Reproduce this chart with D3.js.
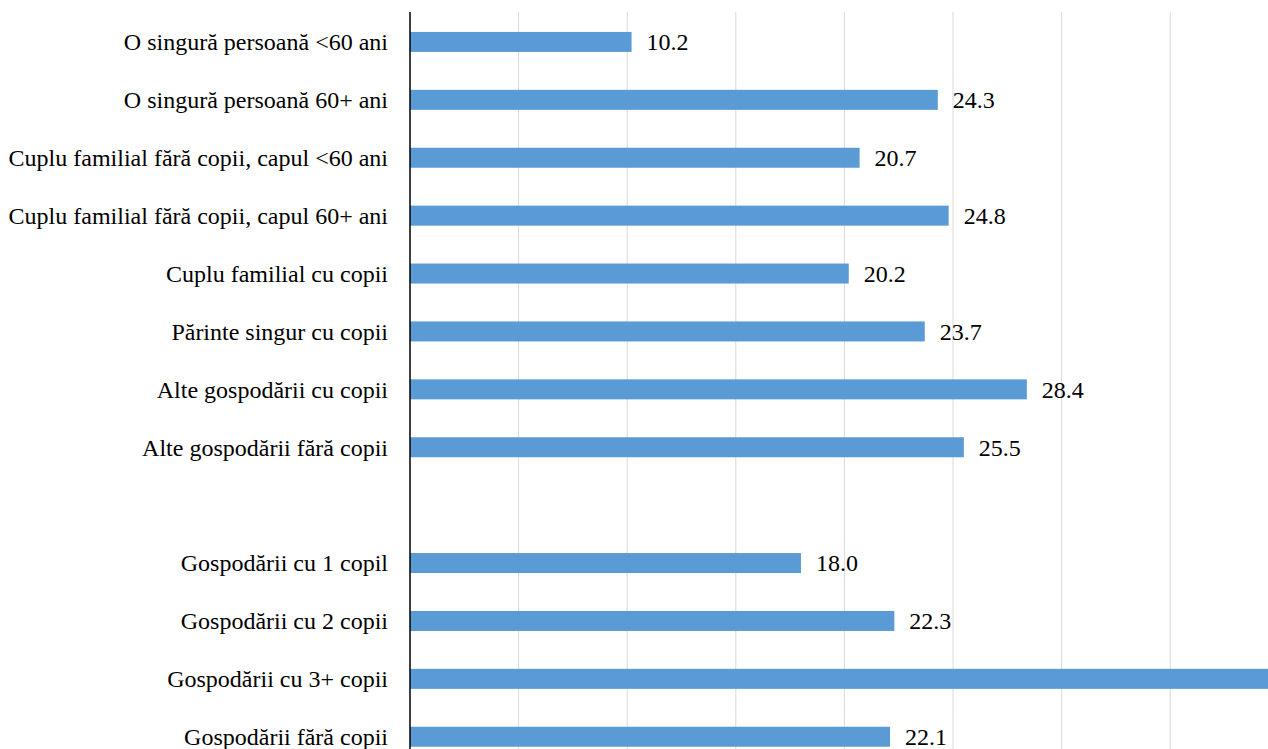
<!DOCTYPE html>
<html lang="en">
<head>
<meta charset="UTF-8">
<script src="https://d3js.org/d3.v7.min.js"></script>
<style>
  body { margin: 0; background: #fff; }
  text { font-family: "Times New Roman", "Liberation Serif", Times, "DejaVu Serif", serif; font-size: 24px; fill: #000; }
</style>
</head>
<body>
<svg width="1268" height="749"></svg>
<script>
// categories, top to bottom ("" is the blank separator row)
const categories = [
  "O singură persoană <60 ani",
  "O singură persoană 60+ ani",
  "Cuplu familial fără copii, capul <60 ani",
  "Cuplu familial fără copii, capul 60+ ani",
  "Cuplu familial cu copii",
  "Părinte singur cu copii",
  "Alte gospodării cu copii",
  "Alte gospodării fără copii",
  "",
  "Gospodării cu 1 copil",
  "Gospodării cu 2 copii",
  "Gospodării cu 3+ copii",
  "Gospodării fără copii"
];
const values = [10.2, 24.3, 20.7, 24.8, 20.2, 23.7, 28.4, 25.5, null, 18.0, 22.3, 41.6, 22.1];
const gridTicks = [5, 10, 15, 20, 25, 30, 35, 40];

const svg = d3.select("svg");
const x0 = 410;

const x = d3.scaleLinear().domain([0, 5]).range([x0, x0 + 108.6]);
const y = d3.scaleBand().domain(d3.range(categories.length)).range([13, 13 + 57.9 * categories.length]);
const barH = 20;

// gridlines
svg.append("g").selectAll("line").data(gridTicks).join("line")
  .attr("x1", d => x(d)).attr("x2", d => x(d))
  .attr("y1", 12).attr("y2", 749)
  .attr("stroke", "#d9d9d9").attr("stroke-width", 1);

const rows = categories.map((c, i) => ({ c, v: values[i], i })).filter(d => d.v != null);

svg.append("g").selectAll("rect").data(rows).join("rect")
  .attr("x", x0)
  .attr("y", d => y(d.i) + y.bandwidth() / 2 - barH / 2)
  .attr("width", d => x(d.v) - x0)
  .attr("height", barH)
  .attr("fill", "#5b9bd5");

svg.append("g").selectAll("text").data(rows.filter(d => x(d.v) < 1200)).join("text")
  .attr("x", d => x(d.v) + 15)
  .attr("y", d => y(d.i) + y.bandwidth() / 2)
  .attr("dy", "0.35em")
  .text(d => d.v.toFixed(1));

svg.append("g").selectAll("text").data(rows).join("text")
  .attr("x", 388)
  .attr("y", d => y(d.i) + y.bandwidth() / 2)
  .attr("dy", "0.35em")
  .attr("text-anchor", "end")
  .text(d => d.c);

// axis line
svg.append("line")
  .attr("x1", x0).attr("x2", x0).attr("y1", 12).attr("y2", 749)
  .attr("stroke", "#000").attr("stroke-width", 1.5);
</script>
</body>
</html>
